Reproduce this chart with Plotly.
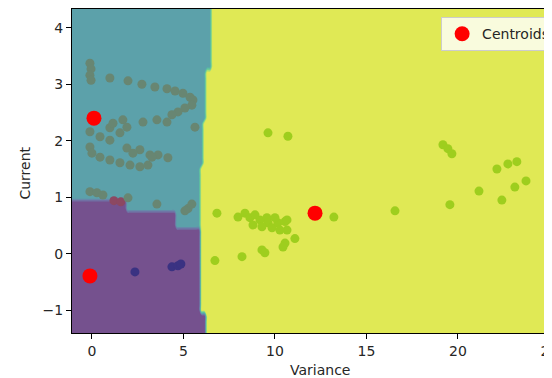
"""K-means clusters of Variance vs Current with the decision regions behind them."""

import numpy as np

import plotly.graph_objects as go

# Cluster points (Variance, Current)
upper_x = [-0.11, -0.05, -0.11, -0.05, 0.98, 1.97, 2.73, 3.44, 4.10, 4.54, 4.97, 5.36,
           5.52, 5.46, 5.08, 4.70, 4.37, 4.10, 3.55, 2.79, 5.63,
           0.98, 1.69, 1.91, 1.53, 1.15, -0.11, 0.44, 0.98, 1.91, 2.62, 3.17, 3.61,
           4.15, -0.11, 0.00, 0.44, 0.98, 1.53, 2.08, 2.62, 3.06, 2.24, 3.28,
           -0.11, 0.27, 0.60, 1.97, 3.55, 5.25, 5.46, 5.08]
upper_y = [3.37, 3.27, 3.16, 3.07, 3.11, 3.06, 3.00, 2.95, 2.92, 2.88, 2.84, 2.77,
           2.72, 2.63, 2.58, 2.51, 2.46, 2.33, 2.37, 2.33, 2.24,
           2.23, 2.37, 2.24, 2.14, 2.31, 2.16, 2.07, 2.01, 1.87, 1.84, 1.75, 1.75,
           1.70, 1.89, 1.78, 1.71, 1.66, 1.61, 1.57, 1.54, 1.57, 1.78, 1.71,
           1.10, 1.08, 1.04, 0.99, 0.88, 0.80, 0.88, 0.76]

lower_x = [2.35, 4.37, 4.70, 4.86]
lower_y = [-0.32, -0.23, -0.21, -0.18]

edge_pts_x = [1.20, 1.58]
edge_pts_y = [0.94, 0.92]

right_x = [6.83, 7.98, 8.36, 8.63, 8.80, 9.18, 9.56, 9.62, 9.84, 10.16, 10.55, 10.66,
           10.66, 11.09, 10.55, 10.44, 9.29, 9.45, 8.20, 6.72, 13.22, 16.56, 19.56,
           21.15, 22.40, 23.11, 23.72, 25.03, 22.13, 22.73, 23.22, 19.18, 19.45,
           19.67, 9.62, 10.71, 8.91, 9.29, 10.00, 10.27]
right_y = [0.72, 0.65, 0.72, 0.64, 0.51, 0.60, 0.64, 0.55, 0.46, 0.55, 0.57, 0.60,
           0.42, 0.27, 0.19, 0.12, 0.07, 0.02, -0.05, -0.12, 0.65, 0.76, 0.87,
           1.11, 0.95, 1.18, 1.29, 1.34, 1.50, 1.59, 1.63, 1.93, 1.86,
           1.77, 2.14, 2.08, 0.69, 0.48, 0.64, 0.42]

centroid_x = [0.11, -0.11, 12.19]
centroid_y = [2.40, -0.39, 0.72]

# Region borders: lower/upper split (y level per x segment) and left/right wall (x per y segment)
split_x = [1.8, 4.5]
split_levels = [0.99, 0.74, 0.49]
wall_y = [-1.0, 1.55, 2.4, 3.3]
wall_levels = [6.25, 5.95, 6.05, 6.15, 6.45]

x_ticks = [0, 5, 10, 15, 20, 25]
y_ticks = [-1, 0, 1, 2, 3, 4]

# Label grid for the filled contour
grid_x = np.arange(-1.5, 25.6, 0.15)
grid_y = np.arange(-1.6, 4.55, 0.1)
gx, gy = np.meshgrid(grid_x, grid_y)
floor_y = np.array(split_levels)[np.searchsorted(split_x, gx)]
wall_x = np.array(wall_levels)[np.searchsorted(wall_y, gy)]
labels = np.where(gx > wall_x, 2, np.where(gy > floor_y, 1, 0))

# viridis band colours, faded 75% over white
band_colors = ["rgb(117,81,142)", "rgb(113,112,164)", "rgb(103,137,170)",
               "rgb(92,161,170)", "rgb(87,183,166)", "rgb(110,204,151)",
               "rgb(161,222,121)", "rgb(224,233,85)"]
scale = [[i / 7, c] for i, c in enumerate(band_colors)]

font = dict(family="DejaVu Sans", size=14, color="#262626")

data = [
    go.Contour(
        x=grid_x,
        y=grid_y,
        z=labels,
        autocontour=False,
        contours=dict(start=0.26, end=1.77, size=0.25, coloring="fill", showlines=False),
        colorscale=scale,
        line_width=0,
        showscale=False,
        hoverinfo="skip",
    ),
    go.Scatter(x=edge_pts_x, y=edge_pts_y, mode="markers", showlegend=False,
               marker=dict(size=9, color="rgb(140,72,98)", line_width=0)),
    go.Scatter(x=upper_x, y=upper_y, mode="markers", showlegend=False,
               marker=dict(size=9, color="rgb(104,134,114)", line_width=0)),
    go.Scatter(x=lower_x, y=lower_y, mode="markers", showlegend=False,
               marker=dict(size=9, color="rgb(58,50,130)", line_width=0)),
    go.Scatter(x=right_x, y=right_y, mode="markers", showlegend=False,
               marker=dict(size=9, color="rgb(158,206,30)", line_width=0)),
    go.Scatter(x=centroid_x, y=centroid_y, mode="markers", name="Centroids",
               marker=dict(size=15, color="red", line_width=0)),
]

axis_style = dict(
    ticks="outside",
    ticklen=5,
    tickcolor="black",
    showline=True,
    linecolor="black",
    linewidth=1,
    showgrid=False,
    zeroline=False,
    automargin=False,
    ticklabeloverflow="allow",
    tickfont=font,
)

# the page body adds 8px on the left/top, so the figure is sized to what is seen
layout = go.Layout(
    width=544,
    height=370,
    margin=dict(l=64, r=0, t=1, b=45, autoexpand=False),
    paper_bgcolor="white",
    plot_bgcolor="white",
    font=font,
    xaxis=dict(range=[-1.09, 25.14], tickvals=x_ticks, mirror=True, **axis_style),
    yaxis=dict(range=[-1.40, 4.33], tickvals=y_ticks, **axis_style),
    legend=dict(
        x=0.769,
        y=0.975,
        xanchor="left",
        yanchor="top",
        bgcolor="rgba(255,255,255,0.8)",
        bordercolor="#cccccc",
        borderwidth=1,
        font=font,
    ),
    annotations=[
        dict(text="Variance", xref="paper", yref="paper", x=0.517, y=-0.114,
             xanchor="center", yanchor="middle", showarrow=False, font=font),
        dict(text="Current", xref="paper", yref="paper", x=-0.098, y=0.495,
             xanchor="center", yanchor="middle", textangle=-90, showarrow=False,
             font=font),
    ],
)

fig = go.Figure(data=data, layout=layout)
fig.write_html("out.html")
